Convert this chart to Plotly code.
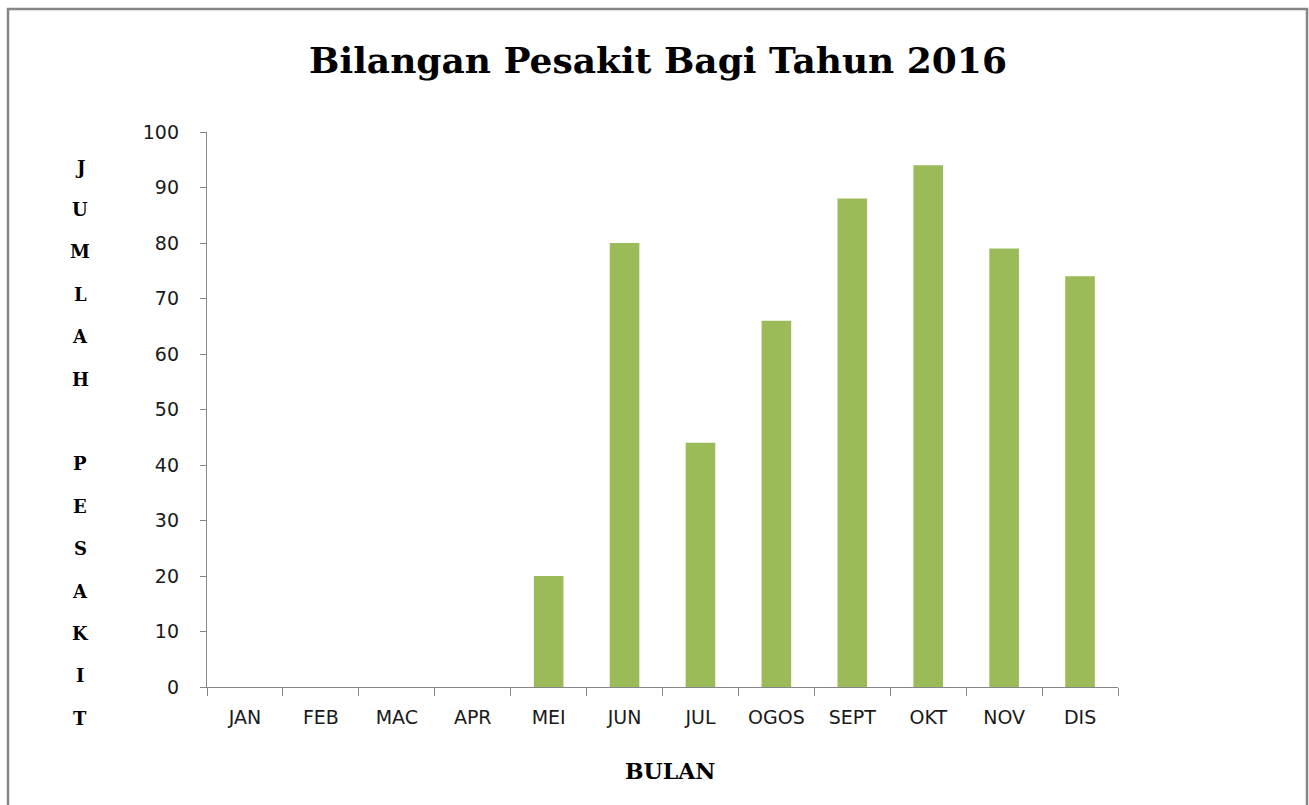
import plotly.graph_objects as go

months = ["JAN", "FEB", "MAC", "APR", "MEI", "JUN", "JUL", "OGOS", "SEPT", "OKT", "NOV", "DIS"]
patients = [0, 0, 0, 0, 20, 80, 44, 66, 88, 94, 79, 74]
y_ticks = [0, 10, 20, 30, 40, 50, 60, 70, 80, 90, 100]
title_text = "Bilangan Pesakit Bagi Tahun 2016"
x_title = "BULAN"
y_title_letters = ["J", "U", "M", "L", "A", "H", "", "P", "E", "S", "A", "K", "I", "T"]

W, H = 1309, 805
L, R, T, B = 207, 1118, 132, 687
pw, ph = R - L, B - T

def px_x(x):
    return (x - L) / pw

def px_y(y):
    return (B - y) / ph

fig = go.Figure()
fig.add_trace(go.Bar(
    x=months, y=patients,
    marker=dict(color="#9BBB59", line=dict(width=0)),
    hoverinfo="x+y",
))

grey = "#868686"
annotations = []
y0, step = 167, 42.4
for i, ch in enumerate(y_title_letters):
    if not ch:
        continue
    annotations.append(dict(
        text=ch, x=px_x(80), y=px_y(y0 + i * step), xref="paper", yref="paper",
        showarrow=False, xanchor="center", yanchor="middle",
        font=dict(family="DejaVu Serif", size=18, color="black", weight="bold"),
    ))
annotations.append(dict(
    text=x_title, x=px_x(670), y=px_y(771), xref="paper", yref="paper",
    showarrow=False, xanchor="center", yanchor="middle",
    font=dict(family="DejaVu Serif", size=22, color="black", weight="bold"),
))

fig.update_layout(
    width=W, height=H,
    margin=dict(l=L, r=W - R, t=T, b=H - B, pad=0),
    paper_bgcolor="white", plot_bgcolor="white",
    showlegend=False,
    bargap=0.61,
    title=dict(text=title_text, x=658 / W, y=1 - 60 / H, xanchor="center", yanchor="middle",
               font=dict(family="DejaVu Serif", size=36, color="black", weight="bold")),
    annotations=annotations,
    shapes=[dict(type="rect", xref="paper", yref="paper",
                 x0=px_x(8), x1=px_x(1307), y0=px_y(9), y1=px_y(830),
                 line=dict(color=grey, width=2.5), fillcolor="rgba(0,0,0,0)", layer="below")],
    xaxis=dict(
        showline=True, linecolor=grey, linewidth=1.3,
        ticks="outside", tickson="boundaries", ticklen=8, tickcolor=grey, tickwidth=1.3,
        tickfont=dict(family="DejaVu Sans", size=19, color="#1a1a1a"),
        ticklabelstandoff=13,
        showgrid=False, zeroline=False,
    ),
    yaxis=dict(
        range=[0, 100], tickvals=y_ticks, ticktext=[str(v) for v in y_ticks],
        showline=True, linecolor=grey, linewidth=1.3,
        ticks="outside", ticklen=6, tickcolor=grey, tickwidth=1.3,
        tickfont=dict(family="DejaVu Sans", size=19, color="#1a1a1a"),
        ticklabelstandoff=17,
        showgrid=False, zeroline=False,
    ),
)

fig.write_html("out.html", config={"displayModeBar": False},
               post_script="document.body.style.margin='0px';")
